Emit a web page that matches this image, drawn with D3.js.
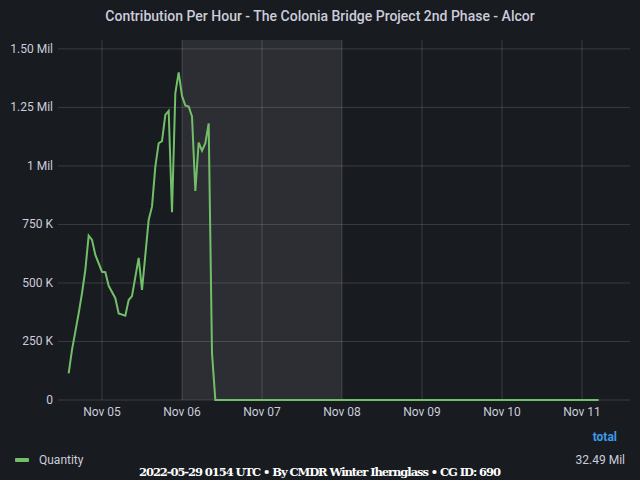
<!DOCTYPE html><html><head><meta charset="utf-8">
<script src="https://cdn.jsdelivr.net/npm/d3@7"></script>
<style>body{margin:0;background:#181b1f}</style></head><body><svg id="c" width="640" height="480"></svg>
<script>
// hours offset from Nov 05 00:00
const hours = [-10,-9,-7,-6,-5,-4,-3,-2,0,1,2,4,5,7,8,9,11,12,14,15,16,17,18,19,20,21,22,23,24,25,26,27,28,29,30,31,32,33,34,149];
const quantity = [114,214,370,456,556,702,684,620,548,546,488,435,370,360,427,444,607,470,769,826,997,1097,1106,1218,1235,802,1311,1400,1299,1258,1254,1211,893,1100,1065,1097,1182,200,0,0];
const yTicks = [0,250,500,750,1000,1250,1500];
const yTickLabels = ["0","250 K","500 K","750 K","1 Mil","1.25 Mil","1.50 Mil"];
const dayTicks = [0,24,48,72,96,120,144];
const dayLabels = ["Nov 05","Nov 06","Nov 07","Nov 08","Nov 09","Nov 10","Nov 11"];
const shadeRange = [24,72];

const svg=d3.select("#c");
const L=58,R=630,T=40,B=400;
const x=d3.scaleLinear().domain([-13.2,158.4]).range([L,R]);
const y=d3.scaleLinear().domain([0,1538]).range([B,T]);
svg.append("rect").attr("width",640).attr("height",480).attr("fill","#181b1f");
svg.append("rect").attr("x",x(shadeRange[0])).attr("y",T).attr("width",x(shadeRange[1])-x(shadeRange[0])).attr("height",B-T).attr("fill","#2c2e33");
const g=svg.append("g");
yTicks.forEach((t,i)=>{
  g.append("line").attr("x1",L).attr("x2",R).attr("y1",y(t)).attr("y2",y(t)).attr("stroke","#ffffff").attr("stroke-opacity",0.15);
  g.append("text").attr("x",L-5).attr("y",y(t)+4).attr("text-anchor","end").attr("fill","#ccccdc").attr("font-family","Roboto").attr("font-size",12).text(yTickLabels[i]);
});
dayTicks.forEach((t,i)=>{
  g.append("line").attr("x1",x(t)).attr("x2",x(t)).attr("y1",T).attr("y2",B).attr("stroke","#ffffff").attr("stroke-opacity",0.15);
  g.append("text").attr("x",x(t)).attr("y",B+16).attr("text-anchor","middle").attr("fill","#ccccdc").attr("font-family","Roboto").attr("font-size",12).text(dayLabels[i]);
});
const line=d3.line().x((d,i)=>x(hours[i])).y(d=>y(d));
svg.append("path").datum(quantity).attr("d",line).attr("fill","none").attr("stroke","#73bf69").attr("stroke-width",2);
svg.append("text").attr("x",320).attr("y",21).attr("text-anchor","middle").attr("fill","#ccccdc").attr("font-family","Roboto").attr("font-weight",500).attr("font-size",14).text("Contribution Per Hour - The Colonia Bridge Project 2nd Phase - Alcor");
svg.append("text").attr("x",617).attr("y",441).attr("text-anchor","end").attr("fill","#3d9be9").attr("font-family","Roboto").attr("font-weight",700).attr("font-size",12).text("total");
svg.append("rect").attr("x",15).attr("y",458).attr("width",14).attr("height",4).attr("rx",1).attr("fill","#73bf69");
svg.append("text").attr("x",39).attr("y",464).attr("fill","#ccccdc").attr("font-family","Roboto").attr("font-size",12).text("Quantity");
svg.append("text").attr("x",625).attr("y",464).attr("text-anchor","end").attr("fill","#ccccdc").attr("font-family","Roboto").attr("font-size",12).text("32.49 Mil");
svg.append("text").attr("x",320).attr("y",476).attr("text-anchor","middle").attr("fill","#ffffff").attr("font-family","DejaVu Serif").attr("font-weight",700).attr("font-size",11.5).attr("textLength",362).text("2022-05-29 0154 UTC • By CMDR Winter Iherngl\u0061ss • CG ID: 690");
</script></body></html>
